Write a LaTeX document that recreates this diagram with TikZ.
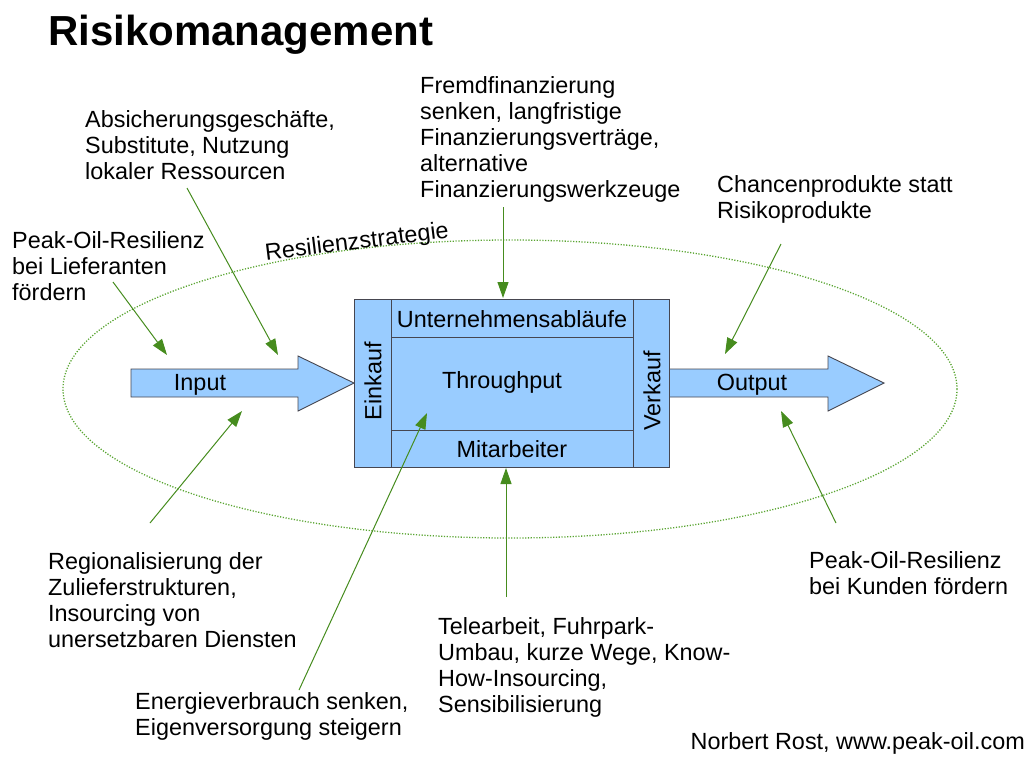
\documentclass[tikz,border=0pt]{standalone}
\usepackage{fontspec}
\setmainfont{Liberation Sans}
\usetikzlibrary{arrows.meta}
\definecolor{boxblue}{RGB}{153,204,255}
\definecolor{arrgreen}{RGB}{70,140,30}
\definecolor{ellgreen}{RGB}{90,165,50}
\definecolor{edgegray}{RGB}{70,70,80}
\begin{document}
\begin{tikzpicture}[x=1pt,y=-1pt,
  lbl/.style={font=\fontsize{23.4}{26}\selectfont, align=left, anchor=north west, inner sep=0pt},
  intext/.style={font=\fontsize{23.4}{26}\selectfont, inner sep=0pt},
  garrow/.style={draw=arrgreen, line width=1pt, -{Triangle[length=16pt,width=11pt]}},
  blueshape/.style={fill=boxblue, draw=edgegray, line width=0.9pt},
  divider/.style={draw=edgegray, line width=0.9pt}]
\useasboundingbox (0,0) rectangle (1027,756);

% title
\node[anchor=base west, inner sep=0pt, font=\fontsize{42}{50}\selectfont\bfseries] (title) at (48,45) {Risikomanagement};

% resilience ellipse
\draw[ellgreen, line width=1.3pt, dash pattern=on 1.2pt off 1.6pt] (510,389) ellipse [x radius=447, y radius=149];
\node[intext, rotate=7] (resil) at (357,243) {Resilienzstrategie};

% input / output arrows
\path[blueshape] (131,369) -- (298,369) -- (298,356) -- (354,383) -- (298,411) -- (298,397) -- (131,397) -- cycle;
\node[intext] (input) at (200,385) {Input};
\path[blueshape] (668,369) -- (828,369) -- (828,356) -- (884,383) -- (828,411) -- (828,397) -- (668,397) -- cycle;
\node[intext] (output) at (752,385) {Output};

% main box
\path[blueshape] (354,299) rectangle (669,467);
\draw[divider] (391,299) -- (391,467);
\draw[divider] (633,299) -- (633,467);
\draw[divider] (391,337) -- (633,337);
\draw[divider] (391,430) -- (633,430);
\node[intext] (ablauf) at (512,319) {Unternehmensabläufe};
\node[intext] (through) at (502,382) {Throughput};
\node[intext] (mitarb) at (512,449) {Mitarbeiter};
\node[intext, rotate=90] (einkauf) at (373,381) {Einkauf};
\node[intext, rotate=90] (verkauf) at (652,391) {Verkauf};

% labels
\node[lbl] (lief) at (12,231) {Peak-Oil-Resilienz\\bei Lieferanten\\fördern};
\node[lbl] (absich) at (85,110) {Absicherungsgeschäfte,\\Substitute, Nutzung\\lokaler Ressourcen};
\node[lbl] (fremd) at (420,76) {Fremdfinanzierung\\senken, langfristige\\Finanzierungsverträge,\\alternative\\Finanzierungswerkzeuge};
\node[lbl] (chancen) at (717,175) {Chancenprodukte statt\\Risikoprodukte};
\node[lbl] (regio) at (48,552) {Regionalisierung der\\Zulieferstrukturen,\\Insourcing von\\unersetzbaren Diensten};
\node[lbl] (energie) at (135,692) {Energieverbrauch senken,\\Eigenversorgung steigern};
\node[lbl] (tele) at (438,617) {Telearbeit, Fuhrpark-\\Umbau, kurze Wege, Know-\\How-Insourcing,\\Sensibilisierung};
\node[lbl] (kunden) at (809,551) {Peak-Oil-Resilienz\\bei Kunden fördern};
\node[lbl, anchor=north east] (author) at (1025,732) {Norbert Rost, www.peak-oil.com};

% arrow coordinates
\coordinate (s1) at (113,282); \coordinate (e1) at (167,355);
\coordinate (s2) at (187,188); \coordinate (e2) at (278,355);
\coordinate (s3) at (503,207); \coordinate (e3) at (503,298);
\coordinate (s4) at (781,244); \coordinate (e4) at (725,354);
\coordinate (s5) at (150,523); \coordinate (e5) at (242,411);
\coordinate (s6) at (299,690); \coordinate (e6) at (427,413);
\coordinate (s7) at (506,597); \coordinate (e7) at (506,468);
\coordinate (s8) at (836,523); \coordinate (e8) at (781,411);

\draw[garrow] (s1) -- (e1);
\draw[garrow] (s2) -- (e2);
\draw[garrow] (s3) -- (e3);
\draw[garrow] (s4) -- (e4);
\draw[garrow] (s5) -- (e5);
\draw[garrow] (s6) -- (e6);
\draw[garrow] (s7) -- (e7);
\draw[garrow] (s8) -- (e8);
\end{tikzpicture}
\end{document}
